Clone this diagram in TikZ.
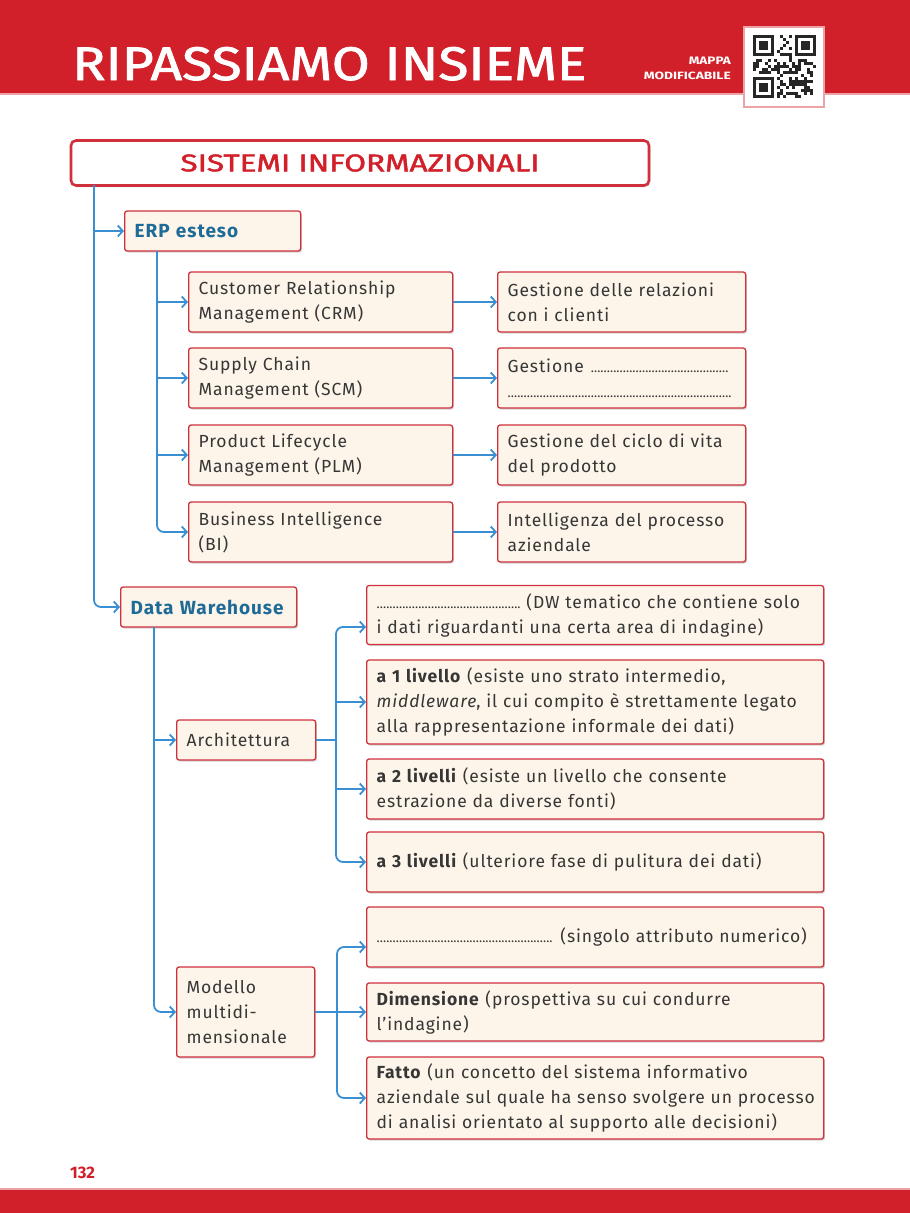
\documentclass[tikz,border=0pt]{standalone}
\usepackage{graphicx}
\usepackage{fontspec}
\setmainfont{Fira Sans}
\newfontfamily\bodyfam{Fira Sans}[LetterSpace=5]
\newfontfamily\headfam{Fira Sans}
\newfontfamily\headmed{Fira Sans}[FakeBold=1.6]
\usetikzlibrary{shadows,arrows.meta}
\definecolor{hred}{HTML}{D2202A}
\definecolor{hpink}{HTML}{EBA3A6}
\definecolor{bred}{HTML}{D0303C}
\definecolor{bcream}{HTML}{FDF5E9}
\definecolor{lblue}{HTML}{3A8FD2}
\definecolor{tgray}{HTML}{363636}
\definecolor{tblue}{HTML}{1E6B97}
\newcommand\mydots[1]{\leavevmode\leaders\hbox to 3.2pt{\hss{\fontsize{13}{13}\selectfont.}\hss}\hskip #1\relax\hbox{}}
\tikzset{
  box/.style={draw=bred, line width=1.3pt, fill=bcream, rounded corners=2.5pt,
    drop shadow={shadow xshift=1.3pt, shadow yshift=-1.6pt, opacity=0.25, fill=black!70},
    inner xsep=10pt, inner ysep=0pt, anchor=west, align=left, text=tgray,
    font=\bodyfam\fontsize{17.5}{25}\selectfont},
  bluebox/.style={box, font=\bodyfam\bfseries\fontsize{19}{25}\selectfont, text=tblue},
  titlebox/.style={draw=bred, line width=2.6pt, fill=white, rounded corners=5pt,
    drop shadow={shadow xshift=1.3pt, shadow yshift=-1.6pt, opacity=0.25, fill=black!70},
    inner sep=0pt, text=hred},
  conn/.style={draw=lblue, line width=1.8pt, -{Straight Barb[length=5pt,width=11pt]}},
  plain/.style={draw=lblue, line width=1.8pt},
  rbend/.style={rounded corners=7pt}
}
\begin{document}
\begin{tikzpicture}[x=1pt,y=-1pt]
\useasboundingbox (0,0) rectangle (910,1213);
% header
\fill[hred] (0,0) rectangle (910,93);
\fill[hpink] (0,93) rectangle (910,95);
\node[anchor=base west, inner sep=0pt, text=white] (head) at (72,80)
  {\resizebox{514pt}{33pt}{\headmed RIPASSIAMO INSIEME}};
\node[anchor=base east, inner sep=0pt, text=white] (mappa) at (731,64)
  {\resizebox{42pt}{7.5pt}{\headfam\bfseries MAPPA}};
\node[anchor=base east, inner sep=0pt, text=white] (modif) at (731,79)
  {\resizebox{87pt}{7.5pt}{\headfam\bfseries MODIFICABILE}};
% QR code
\fill[white, draw=hpink, line width=1.2pt] (744,27) rectangle (824,107);
\begin{scope}[shift={(753,35)}]
  \pgfmathsetseed{11}
  \foreach \i in {0,...,20}{
    \foreach \j in {0,...,20}{
      \pgfmathrandominteger{\r}{0}{1}
      \pgfmathtruncatemacro{\keep}{((\i<8 && \j<8) || (\i>12 && \j<8) || (\i<8 && \j>12)) ? 0 : \r}
      \ifnum\keep=1 \fill[black!85] (3*\i,3*\j) rectangle ++(3,3); \fi
    }
  }
  \foreach \a/\b in {0/0,14/0,0/14}{
    \fill[black!85] (3*\a,3*\b) rectangle ++(21,21);
    \fill[white] (3*\a+3,3*\b+3) rectangle ++(15,15);
    \fill[black!85] (3*\a+6,3*\b+6) rectangle ++(9,9);
  }
\end{scope}
% footer
\fill[hpink] (0,1188) rectangle (910,1190);
\fill[hred] (0,1190) rectangle (910,1213);
\node[anchor=base west, inner sep=0pt, text=hred] (pg) at (70,1178)
  {\resizebox{!}{11.5pt}{\headfam\bfseries 132}};
% title
\node[titlebox, minimum width=578pt, minimum height=45pt] (title) at (360,163)
  {\resizebox{359pt}{17pt}{\headmed SISTEMI INFORMAZIONALI}};
% ERP branch
\node[bluebox, text width=156pt, minimum height=40pt] (erp) at (124,231) {ERP esteso};
\node[box, text width=244pt, minimum height=60pt] (crm) at (188,302) {Customer Relationship\\Management (CRM)};
\node[box, text width=244pt, minimum height=60pt] (scm) at (188,378) {Supply Chain\\Management (SCM)};
\node[box, text width=244pt, minimum height=60pt] (plm) at (188,455) {Product Lifecycle\\Management (PLM)};
\node[box, text width=244pt, minimum height=60pt] (bi) at (188,532) {Business Intelligence\\(BI)};
\node[box, text width=228pt, minimum height=60pt] (rcrm) at (497,302) {Gestione delle relazioni\\con i clienti};
\node[box, text width=228pt, minimum height=60pt] (rscm) at (497,378) {Gestione \mydots{141pt}\\\mydots{225pt}};
\node[box, text width=228pt, minimum height=60pt] (rplm) at (497,455) {Gestione del ciclo di vita\\del prodotto};
\node[box, text width=228pt, minimum height=60pt] (rbi) at (497,532) {Intelligenza del processo\\aziendale};
% Data warehouse branch
\node[bluebox, text width=156pt, minimum height=40pt] (dw) at (120,607) {Data Warehouse};
\node[box, text width=119pt, minimum height=40pt] (arch) at (176,740) {Architettura};
\node[box, text width=118pt, minimum height=90pt] (mod) at (176,1012) {Modello\\multidi-\\mensionale};
\node[box, text width=437pt, minimum height=59pt] (A) at (366,615) {\mydots{144pt} (DW tematico che contiene solo\\i dati riguardanti una certa area di indagine)};
\node[box, text width=437pt, minimum height=84pt] (B) at (366,702) {\textbf{a 1 livello} (esiste uno strato intermedio,\\\mbox{\textit{middleware}, il cui compito è strettamente legato}\\alla rappresentazione informale dei dati)};
\node[box, text width=437pt, minimum height=60pt] (C) at (366,789) {\textbf{a 2 livelli} (esiste un livello che consente\\estrazione da diverse fonti)};
\node[box, text width=437pt, minimum height=60pt] (D) at (366,862) {\textbf{a 3 livelli} (ulteriore fase di pulitura dei dati)};
\node[box, text width=437pt, minimum height=60pt] (E) at (366,937) {\mydots{178pt} (singolo attributo numerico)};
\node[box, text width=437pt, minimum height=58pt] (F) at (366,1012) {\textbf{Dimensione} (prospettiva su cui condurre\\l’indagine)};
\node[box, text width=437pt, minimum height=82pt] (G) at (366,1098) {\textbf{Fatto} (un concetto del sistema informativo\\\mbox{aziendale sul quale ha senso svolgere un processo}\\di analisi orientato al supporto alle decisioni)};
% connectors
\coordinate (t0) at (94,185);
\draw[conn, rbend] (t0) |- (dw.west);
\draw[conn] (erp.west -| t0) -- (erp.west);
\coordinate (e0) at (157,251);
\draw[conn, rbend] (e0) |- (bi.west);
\foreach \n in {crm,scm,plm}{\draw[conn] (\n.west -| e0) -- (\n.west);}
\foreach \n in {crm,scm,plm,bi}{\draw[conn] (\n.east) -- (r\n.west);}
\coordinate (d0) at (154,627);
\draw[conn, rbend] (d0) |- (mod.west);
\draw[conn] (arch.west -| d0) -- (arch.west);
\coordinate (ab) at (336,740);
\coordinate (Aa) at (366,627);
\draw[plain] (arch.east) -- (ab);
\draw[conn, rbend] (ab) |- (Aa);
\draw[conn, rbend] (ab) |- (D.west);
\draw[conn] (B.west -| ab) -- (B.west);
\draw[conn] (C.west -| ab) -- (C.west);
\coordinate (mb) at (337,1012);
\coordinate (Ea) at (366,947);
\draw[conn] (mod.east) -- (F.west);
\draw[conn, rbend] (mb) |- (Ea);
\draw[conn, rbend] (mb) |- (G.west);
\end{tikzpicture}
\end{document}
